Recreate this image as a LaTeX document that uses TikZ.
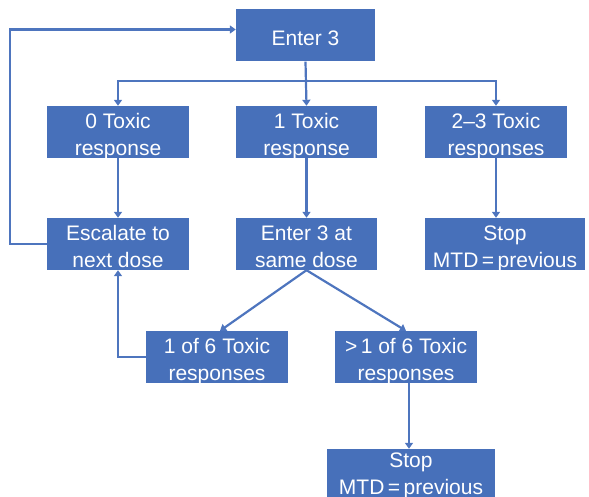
\documentclass[tikz,border=0pt]{standalone}
\usepackage{fontspec}
\setmainfont{Liberation Sans}
\usetikzlibrary{arrows.meta}
\definecolor{boxblue}{HTML}{4770BA}
\definecolor{lineblue}{HTML}{4E75BE}
\tikzset{
  box/.style={draw=none, fill=boxblue, text=white, align=center,
    font=\fontsize{21}{27}\selectfont, inner sep=0pt,
    minimum height=52pt, text height=47pt, text depth=0pt},
  oneline/.style={text height=20pt},
  link/.style={draw=lineblue, line width=2.2pt,
    -{Triangle[length=6pt,width=8pt]}}
}
\begin{document}
\begin{tikzpicture}[x=1pt, y=-1pt]
\useasboundingbox (0,0) rectangle (589,497);

% boxes
\node[box, oneline, minimum width=139pt] (enter) at (305.5,35.5) {Enter 3};
\node[box, minimum width=142pt] (r0)  at (118,132) {0 Toxic\\response};
\node[box, minimum width=141pt] (r1)  at (306.5,132) {1 Toxic\\response};
\node[box, minimum width=142pt] (r23) at (496,132) {2--3 Toxic\\responses};
\node[box, minimum width=142pt] (esc)  at (118,244) {Escalate to\\next dose};
\node[box, minimum width=141pt] (same) at (306.5,244) {Enter 3 at\\same dose};
\node[box, minimum width=160pt] (stopA) at (505,244) {Stop\\MTD\,=\,previous};
\node[box, minimum width=142pt] (one6) at (217,357) {1 of 6 Toxic\\responses};
\node[box, minimum width=142pt] (gt6)  at (406,357) {>\,1 of 6 Toxic\\responses};
\node[box, minimum width=168pt, minimum height=48pt, text height=42pt] (stopB) at (411,473) {Stop\\MTD\,=\,previous};

% branching from the first cohort
\coordinate (bus) at (306.5,81);
\draw[link] (enter.south) -- (r1.north);
\draw[link] (bus) -| (r0.north);
\draw[link] (bus) -| (r23.north);

% second row to third row
\draw[link] (r0.south) -- (esc.north);
\draw[link] (r1.south) -- (same.north);
\draw[link] (r23.south) -- (r23.south |- stopA.north);

% escalation loop back to the top
\coordinate (loopin) at ([yshift=6pt]enter.west);
\draw[link] (esc.west) -- ++(-37,0) |- (loopin);

% expanded cohort
\draw[link] (same.south) -- ([xshift=3pt]one6.north);
\draw[link] (same.south) -- (gt6.north);
\draw[link] (one6.west) -| (esc.south);
\draw[link] ([xshift=3pt]gt6.south) -- ([xshift=3pt]gt6.south |- stopB.north);
\end{tikzpicture}
\end{document}
